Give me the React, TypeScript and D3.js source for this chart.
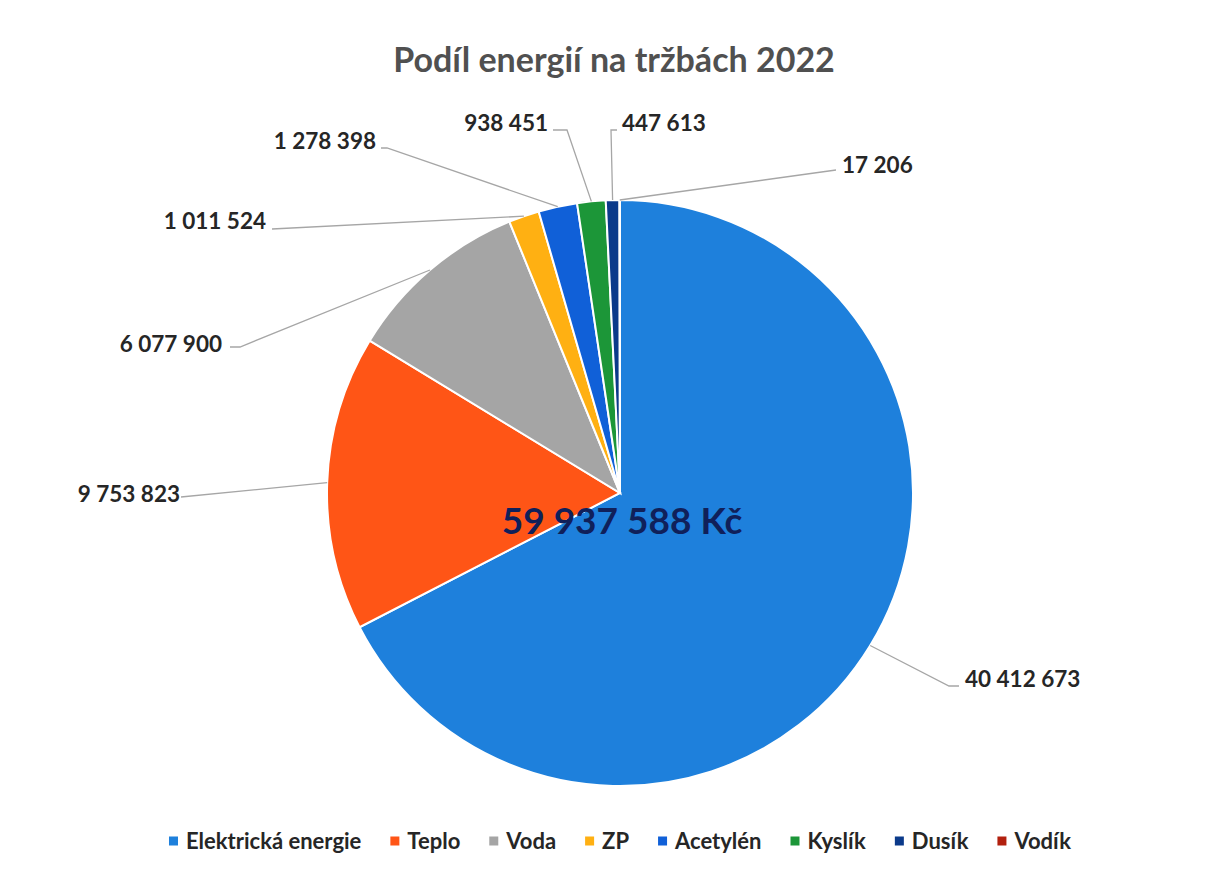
import * as d3 from "d3";
import React, { useEffect, useRef } from "react";

// categories and values (Kč)
const categories = ["Elektrická energie", "Teplo", "Voda", "ZP", "Acetylén", "Kyslík", "Dusík", "Vodík"];
const values = [40412673, 9753823, 6077900, 1011524, 1278398, 938451, 447613, 17206];
const colors = ["#1E80DC", "#FF5516", "#A5A5A5", "#FFB012", "#1060D8", "#1C9638", "#0B3A8A", "#B2200E"];
const title = "Podíl energií na tržbách 2022";

// label placement (layout only): text anchor point, side, leader hook
const labelLayout = [
  { tx: 965, ty: 679, anchor: "start", ly: 686, gap: 6, hook: 10 },
  { tx: 180, ty: 494, anchor: "end", ly: 497, gap: 1, hook: 0 },
  { tx: 222, ty: 344, anchor: "end", ly: 347, gap: 8, hook: 10 },
  { tx: 266, ty: 221, anchor: "end", ly: 229, gap: 6, hook: 0 },
  { tx: 376, ty: 141, anchor: "end", ly: 148, gap: 5, hook: 6 },
  { tx: 548, ty: 123, anchor: "end", ly: 130, gap: 5, hook: 14 },
  { tx: 622, ty: 123, anchor: "start", ly: 130, gap: 5, hook: 6 },
  { tx: 842, ty: 165, anchor: "start", ly: 170, gap: 6, hook: 0 },
];

const width = 1207;
const height = 874;
const cx = 620;
const cy = 493;
const radius = 293;
const font = "Lato, 'Open Sans', sans-serif";

const fmt = (v: number) => d3.format(",")(v).replace(/,/g, " ");

export default function App() {
  const ref = useRef<SVGSVGElement>(null);

  useEffect(() => {
    const svg = d3.select(ref.current);
    svg.selectAll("*").remove();

    const data = categories.map((name, i) => ({ name, value: values[i], color: colors[i] }));
    const pie = d3.pie<any>().sort(null).value((d) => d.value);
    const arcs = pie(data);
    const arc = d3.arc<any>().innerRadius(0).outerRadius(radius);

    svg.append("rect").attr("width", width).attr("height", height).attr("fill", "#fff");

    svg.append("text")
      .attr("x", 614).attr("y", 72)
      .attr("text-anchor", "middle")
      .style("font-family", font).style("font-weight", 700).style("font-size", "34px")
      .attr("fill", "#505050")
      .text(title);

    const g = svg.append("g").attr("transform", `translate(${cx},${cy})`);
    g.selectAll("path.slice")
      .data(arcs)
      .join("path")
      .attr("class", "slice")
      .attr("d", arc)
      .attr("fill", (d) => d.data.color)
      .attr("stroke", "#fff")
      .attr("stroke-width", 2);

    // leader lines + labels
    arcs.forEach((a, i) => {
      const L = labelLayout[i];
      const mid = (a.startAngle + a.endAngle) / 2;
      const sx = cx + radius * Math.sin(mid);
      const sy = cy - radius * Math.cos(mid);
      const dir = L.anchor === "start" ? -1 : 1;
      const ax = L.tx + dir * L.gap;
      const ex = ax + dir * L.hook;
      const line = d3.line();
      svg.append("path")
        .attr("d", line([[sx, sy], [ex, L.ly], [ax, L.ly]]))
        .attr("fill", "none")
        .attr("stroke", "#A6A6A6")
        .attr("stroke-width", 1.3);
      svg.append("text")
        .attr("x", L.tx).attr("y", L.ty + 8)
        .attr("text-anchor", L.anchor)
        .style("font-family", font).style("font-weight", 700).style("font-size", "22.5px")
        .attr("fill", "#262626")
        .text(fmt(a.data.value));
    });

    // total in the middle
    svg.append("text")
      .attr("x", 622).attr("y", 534)
      .attr("text-anchor", "middle")
      .style("font-family", font).style("font-weight", 700).style("font-size", "37px")
      .attr("fill", "#10205A")
      .text(`${fmt(d3.sum(values))} Kč`);

    // legend
    const lg = svg.append("g");
    const items = lg.selectAll("g.item").data(data).join("g").attr("class", "item");
    items.append("rect").attr("width", 9).attr("height", 9).attr("y", -4.5).attr("fill", (d) => d.color);
    items.append("text")
      .attr("x", 17).attr("y", 8)
      .style("font-family", font).style("font-weight", 700).style("font-size", "22px")
      .attr("fill", "#262626")
      .text((d) => d.name);
    let x = 0;
    const gapItems = 29;
    items.each(function () {
      const t = d3.select(this).select("text").node() as SVGTextElement;
      const w = 17 + t.getComputedTextLength();
      d3.select(this).attr("transform", `translate(${x},0)`);
      x += w + gapItems;
    });
    const total = x - gapItems;
    lg.attr("transform", `translate(${620 - total / 2},841)`);
  }, []);

  return (
    <svg
      ref={ref}
      width={width}
      height={height}
      style={{ position: "absolute", left: 0, top: 0, display: "block" }}
    />
  );
}
